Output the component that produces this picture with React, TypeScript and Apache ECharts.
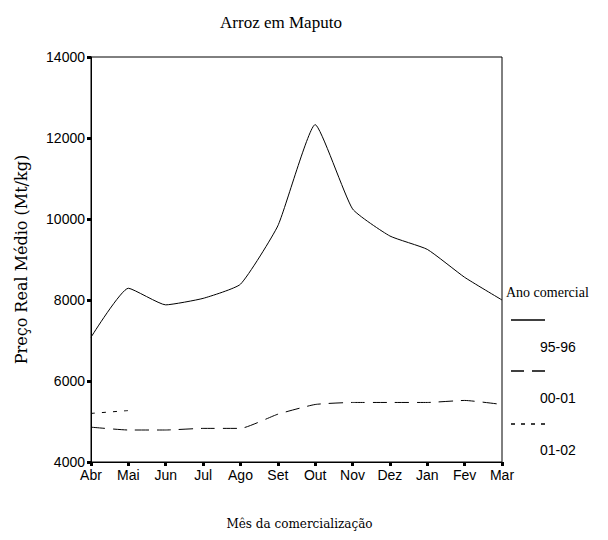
import React, { useEffect, useRef } from "react";
import * as echarts from "echarts";

const months = ["Abr", "Mai", "Jun", "Jul", "Ago", "Set", "Out", "Nov", "Dez", "Jan", "Fev", "Mar"];
const s9596 = [7080, 8290, 7880, 8040, 8390, 9830, 12330, 10250, 9580, 9250, 8560, 8000];
const s0001 = [4860, 4790, 4790, 4830, 4830, 5180, 5420, 5470, 5470, 5470, 5520, 5420];
const s0102: (number | null)[] = [5200, 5270, null, null, null, null, null, null, null, null, null, null];
const seriesNames = ["95-96", "00-01", "01-02"];
const yTicks = [4000, 6000, 8000, 10000, 12000, 14000];

export default function App() {
  const ref = useRef<HTMLDivElement>(null);
  useEffect(() => {
    if (!ref.current) return;
    const chart = echarts.init(ref.current, null, { renderer: "svg" });
    const serif = "Liberation Serif";
    const slab = "DejaVu Serif";
    const sans = "Liberation Sans";
    const legendX1 = 511;
    const legendX2 = 545;
    chart.setOption({
      animation: false,
      backgroundColor: "#ffffff",
      title: {
        text: "Arroz em Maputo",
        left: 276,
        top: 9,
        textAlign: "center",
        textStyle: { fontFamily: serif, fontSize: 17, fontWeight: "normal", color: "#000" },
      },
      grid: {
        left: 91,
        right: 106,
        top: 57,
        bottom: 78,
        show: true,
        borderColor: "#000",
        borderWidth: 1,
        backgroundColor: "transparent",
      },
      xAxis: {
        type: "category",
        data: months,
        boundaryGap: false,
        name: "Mês da comercialização",
        nameLocation: "middle",
        nameGap: 56,
        nameTextStyle: { fontFamily: slab, fontSize: 12, color: "#000", padding: [0, 0, 0, 6] },
        axisLine: { lineStyle: { color: "#000", width: 1 } },
        axisTick: { length: 4, lineStyle: { color: "#000", width: 3 } },
        axisLabel: { fontFamily: sans, fontSize: 14, color: "#000", margin: 6, interval: 0 },
        splitLine: { show: false },
      },
      yAxis: {
        type: "value",
        min: yTicks[0],
        max: yTicks[yTicks.length - 1],
        interval: 2000,
        name: "Preço Real Médio (Mt/kg)",
        nameLocation: "middle",
        nameGap: 62,
        nameTextStyle: { fontFamily: slab, fontSize: 16, color: "#000" },
        axisLine: { show: true, lineStyle: { color: "#000", width: 1 } },
        axisTick: { show: true, length: 4, lineStyle: { color: "#000", width: 3 } },
        axisLabel: {
          fontFamily: sans,
          fontSize: 14,
          color: "#000",
          margin: 6,
          formatter: (v: number) => String(v),
        },
        splitLine: { show: false },
      },
      series: [
        {
          name: seriesNames[0],
          type: "line",
          data: s9596,
          smooth: 0.15,
          symbol: "none",
          lineStyle: { color: "#000", width: 1, type: "solid" },
        },
        {
          name: seriesNames[1],
          type: "line",
          data: s0001,
          smooth: 0.15,
          symbol: "none",
          lineStyle: { color: "#000", width: 1, type: [14, 8] },
        },
        {
          name: seriesNames[2],
          type: "line",
          data: s0102,
          smooth: 0.15,
          symbol: "none",
          connectNulls: false,
          lineStyle: { color: "#000", width: 1, type: [4, 7] },
        },
      ],
      graphic: [
        {
          type: "text",
          left: 506,
          top: 285,
          style: { text: "Ano comercial", fontFamily: serif, fontSize: 14, fill: "#000" },
        },
        {
          type: "line",
          shape: { x1: legendX1, y1: 320, x2: legendX2, y2: 320 },
          style: { stroke: "#000", lineWidth: 1.5 },
        },
        {
          type: "text",
          left: 540,
          top: 340,
          style: { text: seriesNames[0], fontFamily: sans, fontSize: 14, fill: "#000" },
        },
        {
          type: "line",
          shape: { x1: legendX1, y1: 371, x2: legendX2, y2: 371 },
          style: { stroke: "#000", lineWidth: 1.5, lineDash: [13, 8] },
        },
        {
          type: "text",
          left: 540,
          top: 391,
          style: { text: seriesNames[1], fontFamily: sans, fontSize: 14, fill: "#000" },
        },
        {
          type: "line",
          shape: { x1: legendX1, y1: 424, x2: legendX2, y2: 424 },
          style: { stroke: "#000", lineWidth: 1.5, lineDash: [4, 6] },
        },
        {
          type: "text",
          left: 540,
          top: 443,
          style: { text: seriesNames[2], fontFamily: sans, fontSize: 14, fill: "#000" },
        },
      ],
    });
    return () => chart.dispose();
  }, []);
  return <div ref={ref} style={{ width: 608, height: 540, position: "absolute", left: 0, top: 0 }} />;
}
